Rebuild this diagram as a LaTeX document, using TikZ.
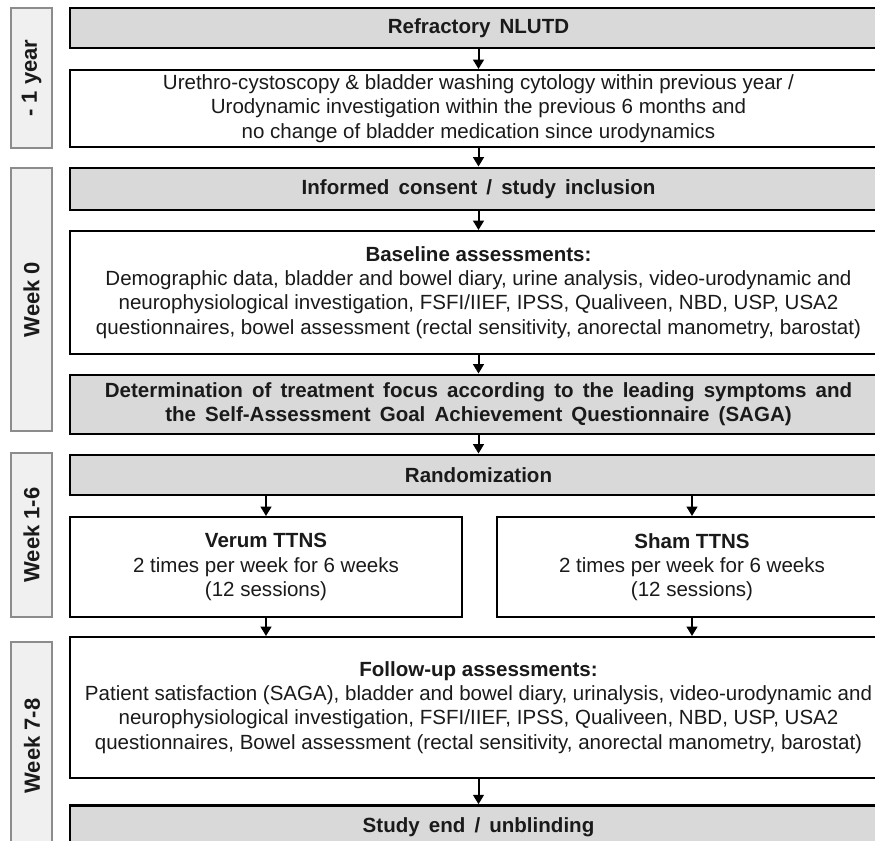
\documentclass[tikz,border=0pt]{standalone}
\usepackage{fontspec}
\setmainfont{Liberation Sans}
\newfontfamily\widebold[WordSpace=1.6]{Liberation Sans}
\usetikzlibrary{arrows.meta}
\definecolor{boxgray}{HTML}{D9D9D9}
\definecolor{labfill}{HTML}{F0F0F0}
\definecolor{labdraw}{HTML}{8C8C8C}
\definecolor{txt}{HTML}{1A1A1A}
\begin{document}
\begin{tikzpicture}[x=0.75pt,y=-0.75pt,
  every node/.style={text=txt},
  rect/.style n args={4}{at={({(#1+#3)/2},{(#2+#4)/2})},
     minimum width={(#3-#1)*0.75pt}, minimum height={(#4-#2)*0.75pt}},
  base/.style={inner sep=0pt, align=center, font=\fontsize{15.4}{18.2}\selectfont},
  graybox/.style={base, draw=black, fill=boxgray, line width=2.2pt,
     font=\fontsize{15.4}{18.2}\widebold\bfseries},
  whitebox/.style={base, draw=black, fill=white, line width=1.5pt},
  labbox/.style={base, draw=labdraw, fill=labfill, line width=1.5pt},
  labtext/.style={rotate=90, inner sep=0pt, font=\fontsize{16.5}{18}\selectfont\bfseries},
  arr/.style={line width=1.5pt, draw=black, -{Triangle[width=8pt,length=7pt]}}]
\useasboundingbox (0,0) rectangle (875,840);
\clip (0,0) rectangle (875,840);
\fill[white] (0,0) rectangle (875,840);

% period labels
\node[labbox, rect={11}{8}{52}{148}] (L1) {};
\node[labbox, rect={11}{168}{52}{431}] (L2) {};
\node[labbox, rect={11}{453}{52}{617}] (L3) {};
\node[labbox, rect={11}{642}{52}{860}] (L4) {};
\node[labtext] (T1) at (L1.center) {- 1 year};
\node[labtext] (T2) at (L2.center) {Week 0};
\node[labtext] (T3) at (L3.center) {Week 1-6};
\node[labtext] (T4) at (32,746) {Week 7-8};

% main boxes
\node[graybox, rect={70}{8}{887}{48}] (n1) {Refractory NLUTD};
\node[whitebox, rect={70}{70}{887}{147}] (n2) {Urethro-cystoscopy \& bladder washing cytology within previous year /\\ Urodynamic investigation within the previous 6 months and\\ no change of bladder medication since urodynamics};
\node[graybox, rect={70}{168}{887}{210}] (n3) {Informed consent / study inclusion};
\node[whitebox, rect={70}{231}{887}{354}] (n4) {\textbf{Baseline assessments:}\\ Demographic data, bladder and bowel diary, urine analysis, video-urodynamic and\\ neurophysiological investigation, FSFI/IIEF, IPSS, Qualiveen, NBD, USP, USA2\\ questionnaires, bowel assessment (rectal sensitivity, anorectal manometry, barostat)};
\node[graybox, rect={70}{375}{887}{434}] (n5) {Determination of treatment focus according to the leading symptoms and\\ the Self-Assessment Goal Achievement Questionnaire (SAGA)};
\node[graybox, rect={70}{455}{887}{495}] (n6) {Randomization};
\node[whitebox, rect={70}{517}{462}{617}] (n7) {\textbf{Verum TTNS}\\ 2 times per week for 6 weeks\\ (12 sessions)};
\node[whitebox, rect={497}{517}{887}{617}] (n8) {\textbf{Sham TTNS}\\ 2 times per week for 6 weeks\\ (12 sessions)};
\node[whitebox, rect={70}{637}{887}{778}] (n9) {\textbf{Follow-up assessments:}\\ Patient satisfaction (SAGA), bladder and bowel diary, urinalysis, video-urodynamic and\\ neurophysiological investigation, FSFI/IIEF, IPSS, Qualiveen, NBD, USP, USA2\\ questionnaires, Bowel assessment (rectal sensitivity, anorectal manometry, barostat)};
\node[graybox, rect={70}{801}{887}{845}, yshift=-3.5pt] (n10) {Study end / unblinding};

% connectors
\draw[arr] (n1) -- (n2);
\draw[arr] (n2) -- (n3);
\draw[arr] (n3) -- (n4);
\draw[arr] (n4) -- (n5);
\draw[arr] (n5) -- (n6);
\draw[arr] (n6.south -| n7.north) -- (n7.north);
\draw[arr] (n6.south -| n8.north) -- (n8.north);
\draw[arr] (n7) -- (n7.south |- n9.north);
\draw[arr] (n8) -- (n8.south |- n9.north);
\draw[arr] (n9) -- (n10);
\end{tikzpicture}
\end{document}
